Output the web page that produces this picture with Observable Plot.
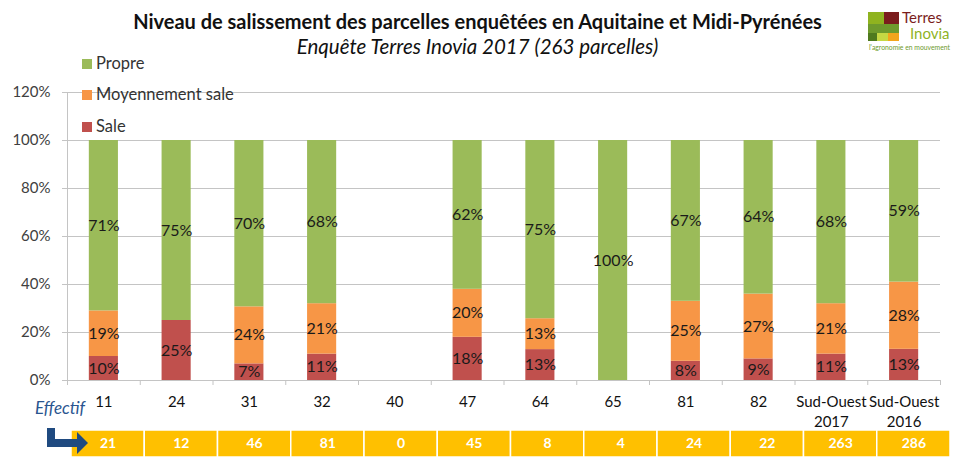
<!DOCTYPE html>
<html><head><meta charset="utf-8">
<script src="https://cdn.jsdelivr.net/npm/d3@7"></script>
<script src="https://cdn.jsdelivr.net/npm/@observablehq/plot@0.6"></script>
<style>
body{margin:0;background:#fff;font-family:Lato,"Open Sans",sans-serif;}
#wrap{position:relative;width:955px;height:457px;overflow:hidden;background:#fff;}
#title{position:absolute;left:0;width:955px;top:9px;text-align:center;font-weight:bold;font-size:20px;color:#111;}
#subtitle{position:absolute;left:0;width:955px;top:34px;text-align:center;font-style:italic;font-size:20.5px;color:#111;}
#chart{position:absolute;left:0;top:60px;}
#legend{position:absolute;left:82px;top:53px;font-size:16.5px;color:#333;}
#legend .it{position:absolute;white-space:nowrap;height:20px;line-height:20px;}
#legend .sw{position:absolute;left:0;top:6px;width:10px;height:10px;}
#legend .lb{position:absolute;left:14px;top:0;}
#effectif{position:absolute;left:35px;top:397px;font-style:italic;font-size:17px;color:#2a5590;}
#arrow{position:absolute;left:0;top:425px;z-index:2;}
#table{position:absolute;left:0;top:430px;z-index:1;}
#logo{position:absolute;left:868px;top:10px;width:87px;height:42px;}
</style></head><body>
<div id="wrap">
  <div id="title">Niveau de salissement des parcelles enquêtées en Aquitaine et Midi-Pyrénées</div>
  <div id="subtitle">Enquête Terres Inovia 2017 (263 parcelles)</div>
  <div id="chart"></div>
  <div id="legend"></div>
  <div id="effectif">Effectif</div>
  <div id="table"></div>
  <svg id="arrow" width="100" height="32">
    <rect x="47" y="3" width="8" height="19" fill="#1f4a80"></rect>
    <rect x="47" y="14" width="31" height="8" fill="#1f4a80"></rect>
    <path d="M77,7 L88,18 L77,29 Z" fill="#1f4a80"></path>
  </svg>
  <div id="logo">
    <div style="position:absolute;left:0;top:2px;width:16px;height:12px;background:#8fb31f"></div>
    <div style="position:absolute;left:16px;top:2px;width:15px;height:12px;background:#7a1c1c"></div>
    <div style="position:absolute;left:0;top:14px;width:31px;height:9px;background:#6e9a2c"></div>
    <div style="position:absolute;left:0;top:23px;width:9px;height:8px;background:#4f7a1e"></div>
    <div style="position:absolute;left:9px;top:23px;width:11px;height:8px;background:#c6d843"></div>
    <div style="position:absolute;left:20px;top:23px;width:11px;height:8px;background:#f2a51c"></div>
    <div style="position:absolute;left:34px;top:0px;font-size:15px;color:#7a1c1c;line-height:15px;">Terres</div>
    <div style="position:absolute;left:42px;top:16px;font-size:15px;color:#8fb31f;line-height:15px;">Inovia</div>
    <div style="position:absolute;left:1px;top:33px;font-size:6.8px;line-height:8px;color:#6e9a2c;white-space:nowrap;">l'agronomie en mouvement</div>
  </div>
</div>
<script>
// ---- data ----
const categories = ["11","24","31","32","40","47","64","65","81","82","Sud-Ouest\n2017","Sud-Ouest\n2016"];
const sale   = [10,25,7,11,0,18,13,0,8,9,11,13];
const moyen  = [19,0,24,21,0,20,13,0,25,27,21,28];
const propre = [71,75,70,68,0,62,75,100,67,64,68,59];
const effectif = [21,12,46,81,0,45,8,4,24,22,263,286];
const seriesNames = ["Sale","Moyennement sale","Propre"];
const seriesColors = ["#C0504D","#F79646","#9BBB59"];
const yTicks = [0,0.2,0.4,0.6,0.8,1.0,1.2];

// ---- tables for Plot ----
const seriesValues = [sale, moyen, propre];
const rows = [];
categories.forEach((c,i) => seriesNames.forEach((s,j) => rows.push({cat:c, series:s, value:seriesValues[j][i]})));
const tableRows = categories.map((c,i) => ({cat:c, n:effectif[i]}));

const W = 955, ML = 67, MR = 15;
const step = (W - ML - MR) / categories.length;
const tickLen = 5 / 240;
const stackOpts = {x:"cat", y:"value", order: seriesNames, offset:"normalize", filter: d => d.value > 0};

const main = Plot.plot({
  width: W, height: 368, marginTop: 32, marginBottom: 48, marginLeft: ML, marginRight: MR,
  style: {fontFamily: "Lato, 'Open Sans', sans-serif", fontSize: "15px", color: "#222", background: "transparent", overflow: "visible"},
  x: {domain: categories, paddingInner: 0.6, paddingOuter: 0.3, round: false, label: null},
  y: {domain: [0, 1.2], label: null},
  color: {domain: seriesNames, range: seriesColors},
  marks: [
    Plot.gridY(yTicks, {stroke: "#c4c4c4", strokeOpacity: 1}),
    Plot.frame({anchor: "left", stroke: "#c4c4c4"}),
    Plot.axisY({ticks: yTicks, tickFormat: d => Math.round(d*100) + "%", tickSize: 5, tickPadding: 12, stroke: "#c4c4c4", fill: "#404040", fontSize: 15, label: null}),
    Plot.ruleX(categories, {x: d => d, dx: -step/2, y1: 0, y2: -tickLen, stroke: "#c4c4c4"}),
    Plot.ruleX([categories[categories.length-1]], {x: d => d, dx: step/2, y1: 0, y2: -tickLen, stroke: "#c4c4c4"}),
    Plot.axisX({tickSize: 0, tickPadding: 12, fill: "#111", fontSize: 15, lineHeight: 1.35, label: null}),
    Plot.barY(rows, Plot.stackY({...stackOpts, fill: "series"})),
    Plot.text(rows, Plot.stackY({...stackOpts, z: "series", text: d => d.value + "%", fill: "#1a1a1a", fontSize: 16}))
  ]
});
document.getElementById("chart").appendChild(main);

const table = Plot.plot({
  width: W, height: 27, marginTop: 0, marginBottom: 0, marginLeft: 71, marginRight: 5,
  style: {fontFamily: "Lato, 'Open Sans', sans-serif", background: "transparent"},
  x: {domain: categories, paddingInner: 0, paddingOuter: 0, round: false, axis: null},
  marks: [
    Plot.cell(tableRows, {x: "cat", fill: "#FFC000", stroke: "#fff", strokeWidth: 1.5}),
    Plot.text(tableRows, {x: "cat", text: d => String(d.n), fill: "#fff", fontWeight: "bold", fontSize: 14})
  ]
});
document.getElementById("table").appendChild(table);

// legend (top = Propre)
const leg = document.getElementById("legend");
const legendY = [0, 31, 63];
[...seriesNames].reverse().forEach((s,k) => {
  const j = seriesNames.indexOf(s);
  const it = document.createElement("div");
  it.className = "it"; it.style.top = legendY[k] + "px";
  it.innerHTML = `<div class="sw" style="background:${seriesColors[j]}"></div><div class="lb">${s}</div>`;
  leg.appendChild(it);
});
</script>
</body></html>
